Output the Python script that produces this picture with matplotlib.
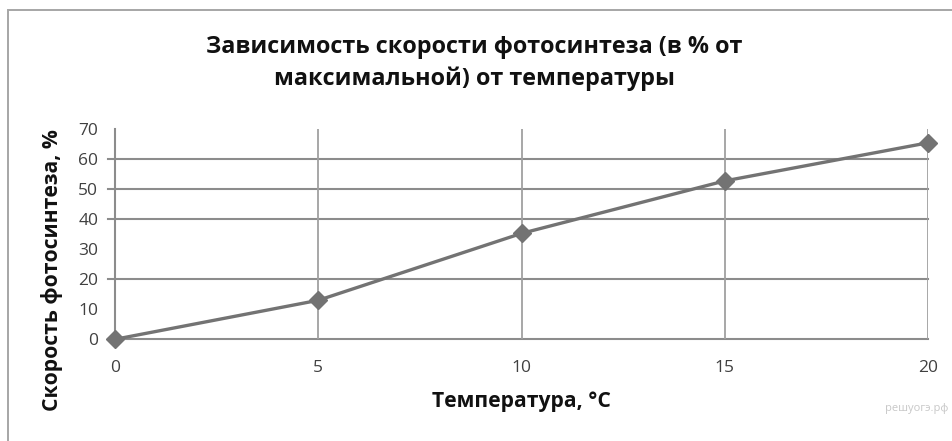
import matplotlib
matplotlib.use("Agg")
import matplotlib.pyplot as plt
from matplotlib.patches import Rectangle

plt.rcParams["font.family"] = ["Open Sans", "DejaVu Sans"]

# data
temps = [0, 5, 10, 15, 20]
rates = [0, 13, 35.3, 52.8, 65.5]
y_ticks = [0, 10, 20, 30, 40, 50, 60, 70]
grid_y = [0, 20, 40, 50, 60]       # horizontal lines visible in the scan
grid_x = [5, 10, 15, 20]

title = "Зависимость скорости фотосинтеза (в % от\nмаксимальной) от температуры"
xlabel = "Температура, °С"
ylabel = "Скорость фотосинтеза, %"

W, H = 952, 441
fig = plt.figure(figsize=(W / 100, H / 100), dpi=100)

def fx(px):
    return px / W

def fy(py):
    return 1 - py / H

# outer chart frame (cropped on the right and bottom)
fig.patches.append(Rectangle((fx(8), fy(470)), fx(1000), fy(10) - fy(470),
                             transform=fig.transFigure, fill=False, ec="#a6a6a6", lw=1.4))

ax = fig.add_axes([fx(115), fy(339.3), fx(928) - fx(115), fy(129.3) - fy(339.3)])
ax.set_xlim(0, 20)
ax.set_ylim(0, 70)
for s in ["top", "right", "bottom"]:
    ax.spines[s].set_visible(False)
ax.spines["left"].set_color("#8c8c8c")
ax.spines["left"].set_linewidth(1.5)

ytr = ax.get_yaxis_transform()
for v in grid_y:
    ax.plot([-0.0086, 1], [v, v], transform=ytr, color="#8c8c8c", lw=1.5, clip_on=False, zorder=1)
for v in grid_x:
    ax.axvline(v, color="#a0a0a0", lw=1.3, zorder=1)

ax.plot(temps, rates, color="#737373", lw=2.4, marker="D", markersize=9, zorder=3, clip_on=False)

ax.set_xticks(temps)
ax.set_yticks(y_ticks)
ax.tick_params(axis="both", length=0, labelsize=12.5, labelcolor="#404040")
ax.tick_params(axis="x", pad=15)
ax.tick_params(axis="y", pad=12)

fig.text(fx(474), fy(47), title.split("\n")[0], ha="center", va="center",
         fontsize=16.8, fontweight="bold", color="#111111")
fig.text(fx(474), fy(79), title.split("\n")[1], ha="center", va="center",
         fontsize=16.8, fontweight="bold", color="#111111")
fig.text(fx(521), fy(401), xlabel, ha="center", va="center",
         fontsize=15.2, fontweight="bold", color="#111111")
fig.text(fx(52), fy(270), ylabel, ha="center", va="center", rotation=90,
         fontsize=15.2, fontweight="bold", color="#111111")
fig.text(fx(948), fy(409), "решуогэ.рф", ha="right", va="center",
         fontsize=8, color="#c8c8c8")

fig.savefig("out.png", dpi=100)
